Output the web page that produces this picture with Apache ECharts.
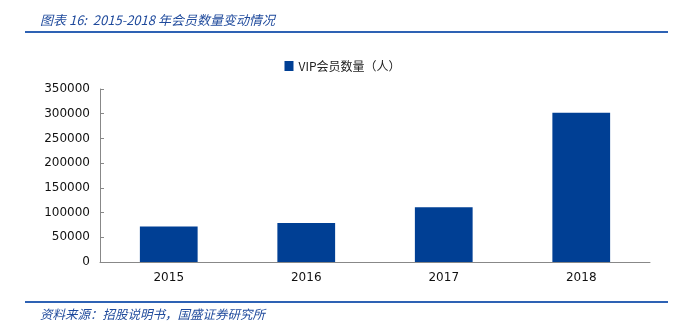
<!DOCTYPE html>
<html>
<head>
<meta charset="utf-8">
<script src="https://cdn.jsdelivr.net/npm/echarts@6/dist/echarts.min.js"></script>
<style>html,body{margin:0;padding:0;background:#fff}#c{width:685px;height:325px}</style>
</head>
<body>
<div id="c"></div>
<script>
const categories = ['2015', '2016', '2017', '2018'];
const vipMembers = [72000, 79000, 111000, 302000];
const seriesName = 'VIP会员数量（人）';
const titleText = '图表 16:  2015-2018 年会员数量变动情况';
const sourceText = '资料来源：招股说明书，国盛证券研究所';

const chart = echarts.init(document.getElementById('c'));
chart.setOption({
  animation: false,
  backgroundColor: '#fff',
  title: [
    { text: titleText, left: 35, top: 9,
      textStyle: { fontSize: 13, fontStyle: 'italic', fontWeight: 'normal', color: '#1F4A9C', fontFamily: 'Noto Sans CJK SC' } },
    { text: sourceText, left: 35, top: 303,
      textStyle: { fontSize: 12.5, fontStyle: 'italic', fontWeight: 'normal', color: '#1F4A9C', fontFamily: 'Noto Sans CJK SC' } }
  ],
  graphic: [
    { type: 'line', shape: { x1: 25, y1: 32, x2: 668, y2: 32 }, style: { stroke: '#2E62B4', lineWidth: 2 } },
    { type: 'line', shape: { x1: 25, y1: 302, x2: 668, y2: 302 }, style: { stroke: '#2E62B4', lineWidth: 2 } }
  ],
  legend: {
    top: 55, left: 'center',
    icon: 'rect',
    itemWidth: 9, itemHeight: 10, itemGap: 3,
    textStyle: { fontSize: 12, color: '#222', fontFamily: 'Noto Sans CJK SC' },
    data: [seriesName]
  },
  grid: { left: 100, right: 35, top: 89, bottom: 63 },
  xAxis: {
    type: 'category', data: categories,
    axisLine: { lineStyle: { color: '#888' } },
    axisTick: { inside: true, length: 4, lineStyle: { color: '#888' } },
    axisLabel: { fontSize: 12, color: '#111', fontFamily: 'DejaVu Sans', margin: 10 }
  },
  yAxis: {
    type: 'value', min: 0, max: 350000, interval: 50000,
    axisLine: { show: true, lineStyle: { color: '#888' } },
    axisTick: { show: true, inside: true, length: 4, lineStyle: { color: '#888' } },
    splitLine: { show: false },
    axisLabel: { fontSize: 12, color: '#111', fontFamily: 'DejaVu Sans', margin: 10,
      formatter: function (v) { return String(v); } }
  },
  series: [{
    name: seriesName, type: 'bar', data: vipMembers,
    barWidth: '42%',
    itemStyle: { color: '#003F94' }
  }]
});
</script>
</body>
</html>
